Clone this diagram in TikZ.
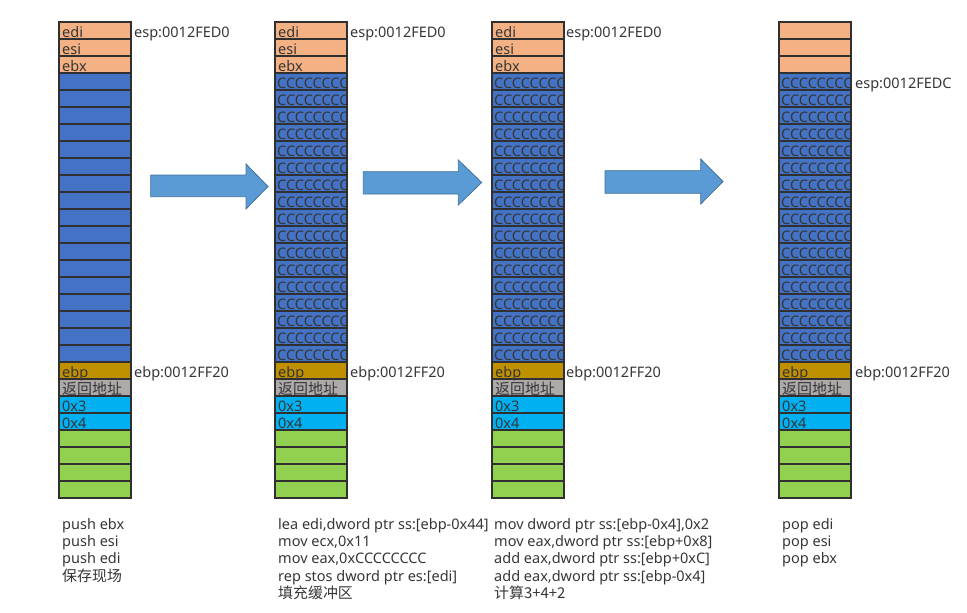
\documentclass[tikz,border=0pt]{standalone}
\usepackage{fontspec}
\setmainfont{Noto Sans}
\newfontfamily\cjk{Noto Sans CJK SC}[Scale=1.03]
\definecolor{cOrange}{HTML}{F4B183}
\definecolor{cBlue}{HTML}{4472C4}
\definecolor{cGold}{HTML}{BF9000}
\definecolor{cGray}{HTML}{AEAAAA}
\definecolor{cCyan}{HTML}{00B0F0}
\definecolor{cGreen}{HTML}{92D050}
\definecolor{cLine}{HTML}{303030}
\definecolor{cTxt}{HTML}{363636}
\definecolor{cArrow}{HTML}{5B9BD5}
\definecolor{cArrowLine}{HTML}{41719C}
\tikzset{
  cell/.style={draw=cLine, line width=1.1pt},
  celltext/.style={anchor=base west, inner sep=0pt, text=cTxt},
  lbl/.style={anchor=base west, inner sep=0pt, text=cTxt},
  code/.style={anchor=base west, inner sep=0pt, text=cTxt},
  bigarrow/.style={fill=cArrow, draw=cArrowLine, line width=0.8pt, line join=miter},
}
\begin{document}
\begin{tikzpicture}[x=1pt,y=-1pt,font=\fontsize{14.5}{17}\selectfont]
\useasboundingbox (0,0) rectangle (967,613);
% stacks
\foreach \cx/\n in {59/1,275/2,492/3,779/4}{
  \foreach \i in {0,1,2}{\path[cell,fill=cOrange] (\cx,22+17*\i) rectangle ++(72,17);}
  \foreach \i in {3,...,19}{\path[cell,fill=cBlue] (\cx,22+17*\i) rectangle ++(72,17);}
  \path[cell,fill=cGold] (\cx,362) rectangle ++(72,17);
  \path[cell,fill=cGray] (\cx,379) rectangle ++(72,17);
  \path[cell,fill=cCyan] (\cx,396) rectangle ++(72,17);
  \path[cell,fill=cCyan] (\cx,413) rectangle ++(72,17);
  \foreach \i in {24,...,27}{\path[cell,fill=cGreen] (\cx,22+17*\i) rectangle ++(72,17);}
  \node[celltext] (ebp\n) at (\cx+3,377.5) {ebp};
  \node[celltext] (ret\n) at (\cx+3,394.5) {\cjk 返回地址};
  \node[celltext] (a\n) at (\cx+3,411.5) {0x3};
  \node[celltext] (b\n) at (\cx+3,428.5) {0x4};
}
\foreach \cx/\n in {59/1,275/2,492/3}{
  \node[celltext] (edi\n) at (\cx+3,37.5) {edi};
  \node[celltext] (esi\n) at (\cx+3,54.5) {esi};
  \node[celltext] (ebx\n) at (\cx+3,71.5) {ebx};
}
% CCCC fill text
\foreach \cx/\n in {275/2,492/3,779/4}{
  \begin{scope}
    \clip (\cx,73) rectangle (\cx+73,362);
    \foreach \i in {3,...,19}{
      \node[celltext] (cc\n-\i) at (\cx+2,22+17*\i+15.5) {CCCCCCCC};
    }
  \end{scope}
  \foreach \i in {3,...,20}{\draw[cLine,line width=1.1pt] (\cx,22+17*\i) -- ++(72,0);}
  \draw[cLine,line width=1.1pt] (\cx,73) -- (\cx,362) (\cx+72,73) -- (\cx+72,362);
}
% side labels
\node[lbl] (esp1) at (134,37.5) {esp:0012FED0};
\node[lbl] (esp2) at (350,37.5) {esp:0012FED0};
\node[lbl] (esp3) at (566,37.5) {esp:0012FED0};
\node[lbl] (esp4) at (855,88.5) {esp:0012FEDC};
\node[lbl] (ebpl1) at (134,377.5) {ebp:0012FF20};
\node[lbl] (ebpl2) at (350,377.5) {ebp:0012FF20};
\node[lbl] (ebpl3) at (566,377.5) {ebp:0012FF20};
\node[lbl] (ebpl4) at (855,377.5) {ebp:0012FF20};
% arrows
\draw[bigarrow] (150.7,175) -- (246,175) -- (246,164) -- (268,186.5) -- (246,209) -- (246,196.7) -- (150.7,196.7) -- cycle;
\draw[bigarrow] (363.3,171.7) -- (458.3,171.7) -- (458.3,160) -- (481.7,182.5) -- (458.3,205) -- (458.3,194) -- (363.3,194) -- cycle;
\draw[bigarrow] (605,170.7) -- (700.7,170.7) -- (700.7,159) -- (723,181.5) -- (700.7,204) -- (700.7,193.3) -- (605,193.3) -- cycle;
% code texts
\node[code] (t1a) at (62,529.5) {push ebx};
\node[code] (t1b) at (62,546.7) {push esi};
\node[code] (t1c) at (62,563.9) {push edi};
\node[code] (t1d) at (62,581.1) {\cjk 保存现场};
\node[code] (t2a) at (278,529.5) {lea edi,dword ptr ss:[ebp-0x44]};
\node[code] (t2b) at (278,546.7) {mov ecx,0x11};
\node[code] (t2c) at (278,563.9) {mov eax,0xCCCCCCCC};
\node[code] (t2d) at (278,581.1) {rep stos dword ptr es:[edi]};
\node[code] (t2e) at (278,598.3) {\cjk 填充缓冲区};
\node[code] (t3a) at (494,529.5) {mov dword ptr ss:[ebp-0x4],0x2};
\node[code] (t3b) at (494,546.7) {mov eax,dword ptr ss:[ebp+0x8]};
\node[code] (t3c) at (494,563.9) {add eax,dword ptr ss:[ebp+0xC]};
\node[code] (t3d) at (494,581.1) {add eax,dword ptr ss:[ebp-0x4]};
\node[code] (t3e) at (494,598.3) {\cjk 计算3+4+2};
\node[code] (t4a) at (782,529.5) {pop edi};
\node[code] (t4b) at (782,546.7) {pop esi};
\node[code] (t4c) at (782,563.9) {pop ebx};
\end{tikzpicture}
\end{document}
